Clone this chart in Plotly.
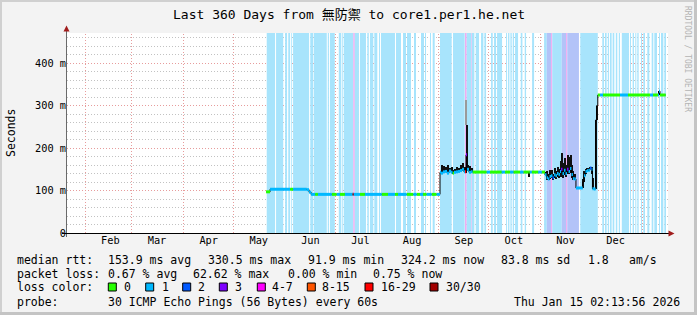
import plotly.graph_objects as go
from datetime import datetime, timedelta

EPOCH = datetime(2025, 1, 1)

# ---------------- axis data ----------------
axis_start_day = 20.04      # days since 2025-01-01 at the left edge
axis_end_day = 380.40       # right edge
y_top_s = 0.471
month_starts = ["2025-02-01", "2025-03-01", "2025-04-01", "2025-05-01", "2025-06-01",
                "2025-07-01", "2025-08-01", "2025-09-01", "2025-10-01", "2025-11-01",
                "2025-12-01", "2026-01-01"]
month_labels = ["Feb", "Mar", "Apr", "May", "Jun", "Jul", "Aug", "Sep", "Oct", "Nov", "Dec"]
y_tick_vals = [0, 0.1, 0.2, 0.3, 0.4]
y_tick_text = ["0", "100 m", "200 m", "300 m", "400 m"]
y_minor_step = 0.02

# ---------------- loss classes ----------------
loss_names = ["0", "1", "2", "3", "4-7", "8-15", "16-29", "30/30"]
loss_colors = ["#26ff00", "#00b8ff", "#0059ff", "#7e00ff", "#ff00ff", "#ff5500", "#ff0000", "#a10000"]
stripe_tints = ["#ffffff", "#a8e4fc", "#b3c3f8", "#d4b0fa", "#f0aaf0", "#ffc8aa", "#ffaaaa", "#e0aaaa"]

# ---------------- packet-loss background stripes (day ranges, loss class) ----------------
stripe_start = [139.8, 145.4, 150.8, 152.7, 154.5, 155.6, 165.9, 168.1, 176.4, 177.7, 183.0, 185.1,
                186.1, 191.7, 192.6, 195.7, 200.1, 201.7, 204.3, 207.1, 208.3, 217.3, 221.5, 223.9,
                228.1, 232.3, 234.7, 237.7, 239.3, 243.7, 251.5, 258.7, 259.7, 262.3, 262.7, 265.1,
                268.3, 270.3, 274.3, 276.1, 277.9, 283.3, 284.5, 285.9, 287.3, 288.7, 292.1, 294.5,
                298.9, 306.1, 307.7, 310.3, 311.0, 316.7, 319.3, 320.0, 327.8, 341.0, 342.6, 344.3,
                345.6, 347.2, 349.1, 350.9, 352.7, 357.6, 359.2, 360.8, 362.0, 364.2, 365.6, 368.0,
                370.6, 372.2, 375.0, 376.2, 378.2]
stripe_end = [144.8, 149.7, 152.0, 153.8, 155.0, 165.2, 167.7, 175.8, 177.1, 180.6, 184.5, 185.7,
              191.7, 192.6, 195.1, 199.3, 201.0, 203.7, 206.1, 207.7, 216.7, 220.3, 223.3, 226.3,
              229.3, 234.1, 235.3, 238.3, 240.5, 250.7, 258.5, 259.7, 262.3, 262.7, 264.3, 267.1,
              269.7, 271.3, 275.3, 277.3, 280.9, 283.9, 285.3, 286.7, 288.1, 290.5, 293.1, 295.3,
              300.1, 307.7, 310.3, 311.0, 316.7, 319.3, 320.0, 327.0, 338.3, 342.0, 343.6, 345.0,
              346.6, 348.2, 350.0, 351.6, 357.0, 358.2, 360.0, 361.4, 362.8, 364.8, 366.6, 369.2,
              371.6, 373.8, 375.6, 377.6, 379.2]
stripe_class = [1, 1, 1, 1, 1, 1, 1, 1, 1, 1, 1, 1,
                1, 4, 1, 1, 1, 1, 1, 1, 1, 1, 1, 1,
                1, 1, 1, 1, 1, 1, 1, 4, 1, 4, 1, 1,
                1, 1, 1, 1, 1, 1, 1, 1, 1, 1, 1, 1,
                1, 1, 2, 4, 1, 2, 4, 2, 1, 1, 1, 1,
                1, 1, 1, 1, 1, 1, 1, 1, 1, 1, 1, 1,
                1, 1, 1, 1, 1]

# ---------------- median rtt samples (ms) ----------------
t_day = [139.4, 141.8, 153.8, 155.6, 163.8, 165.2, 166.4, 168.8, 170.5, 178.8, 181.8, 183.7,
         186.7, 191.3, 191.9, 195.7, 198.7, 208.7, 212.5, 216.7, 218.5, 223.7, 227.7, 229.7,
         231.7, 233.5, 235.7, 238.7, 241.7,
         243.7, 244.3, 245.5, 246.7, 247.9, 249.1, 250.3, 251.2, 252.1, 253.3, 254.5, 255.7,
         256.9, 258.1, 258.7, 259.3, 259.9, 261.1, 262.3,
         263.2, 271.7, 273.7, 280.7, 282.7, 285.7, 287.7, 291.7, 293.7, 296.6, 297.6, 298.7,
         302.6, 304.7,
         306.65, 307.55, 308.45, 309.35, 310.25, 311.15, 312.05, 312.95, 313.85, 314.75, 315.65,
         316.25, 317.15, 318.05, 318.95, 319.85, 320.75, 321.65, 322.5, 323.4, 324.3, 325.2,
         329.25, 330.0, 330.9, 331.8, 332.7, 333.6, 334.5, 335.1, 336.0, 337.0, 337.6,
         338.3, 339.6, 341.4, 351.6, 356.4, 369.6, 371.4, 374.4, 375.0, 375.6]
t_end_day = 379.0
med_ms = [97, 103, 103, 103, 102, 96, 91, 91, 91, 91, 91, 91,
          91, 91, 91, 91, 91, 91, 91, 91, 91, 91, 91, 91,
          91, 91, 91, 91, 91,
          143, 141, 144, 145, 141, 146, 143, 141, 143, 144, 145, 147,
          150, 144, 144, 184, 150, 143, 144,
          143.5, 143.5, 143.5, 143.5, 143.5, 143.5, 143.5, 143.5, 143.5, 143.5, 143.5, 143.5,
          143.5, 143.5,
          137, 130, 127, 133, 135, 130, 137, 135, 140, 138, 145,
          150, 140, 148, 140, 150, 145, 152, 138, 128, 127, 106,
          120, 135, 145, 147, 148, 153, 150, 104, 103.5, 266, 300,
          325, 325, 325, 325, 325, 325, 325, 325, 334, 325]
smoke_lo_ms = [97, 103, 103, 103, 102, 96, 91, 91, 91, 91, 91, 91,
               91, 91, 91, 91, 91, 91, 91, 91, 91, 91, 91, 91,
               91, 91, 91, 91, 91,
               141, 141, 143, 143, 140, 143, 142, 140, 142, 142, 143, 144,
               145, 142, 142, 145, 145, 142, 143,
               143.5, 143.5, 143.5, 143.5, 143.5, 143.5, 143.5, 143.5, 143.5, 133, 143.5, 143.5,
               143.5, 143.5,
               135, 126, 124, 128, 130, 125, 130, 128, 132, 130, 133,
               135, 130, 136, 132, 140, 138, 141, 130, 125, 124, 106,
               106, 120, 140, 143, 145, 150, 140, 104, 103.5, 103.5, 266,
               325, 325, 325, 325, 325, 325, 325, 325, 325, 325]
smoke_hi_ms = [97, 103, 103, 103, 102, 96, 91, 91, 91, 91, 91, 91,
               91, 91, 91, 91, 91, 91, 91, 91, 91, 91, 91, 91,
               91, 91, 91, 91, 91,
               145, 161, 158, 155, 160, 152, 156, 148, 150, 155, 152, 160,
               165, 155, 150, 254, 160, 158, 152,
               143.5, 143.5, 143.5, 143.5, 143.5, 143.5, 143.5, 143.5, 143.5, 143.5, 143.5, 143.5,
               143.5, 143.5,
               143, 145, 140, 148, 149, 140, 152, 147, 155, 150, 170,
               188, 165, 177, 160, 183, 180, 183, 160, 145, 140, 106,
               128, 145, 150, 152, 153, 156, 155, 130, 103.5, 266, 300,
               325, 325, 325, 325, 325, 325, 325, 325, 334, 325]
loss_n = [0, 1, 0, 1, 1, 1, 1, 0, 1, 0, 1, 0,
          1, 30, 1, 0, 1, 0, 1, 0, 1, 0, 1, 0,
          1, 0, 1, 0, 1,
          1, 1, 1, 1, 1, 1, 1, 0, 1, 1, 1, 1,
          1, 1, 16, 3, 1, 1, 1,
          0, 1, 0, 1, 0, 1, 0, 1, 0, 0, 1, 0,
          1, 0,
          1, 1, 1, 1, 1, 2, 1, 1, 1, 1, 1,
          3, 1, 1, 1, 3, 1, 1, 1, 1, 1, 1,
          None, 1, 1, 1, 1, 2, 1, 1, 1, None, None,
          0, 1, 0, 1, 0, 1, 0, 1, 1, 0]
# light smoke of the single outlier column
grey_day = [259.3]
grey_lo_ms = [254]
grey_hi_ms = [313]

# ---------------- legend texts ----------------
rtt_items = ["median rtt:", "153.9 ms avg", "330.5 ms max", "91.9 ms min", "324.2 ms now",
             "83.8 ms sd", "1.8", "am/s"]
loss_items = ["packet loss:", "0.67 % avg", "62.62 % max", "0.00 % min", "0.75 % now"]
probe_items = ["probe:", "30 ICMP Echo Pings (56 Bytes) every 60s", "Thu Jan 15 02:13:56 2026"]
title_text = "Last 360 Days from 無防禦 to core1.per1.he.net"
watermark_text = "RRDTOOL / TOBI OETIKER"

# ---------------- layout geometry (pixels) ----------------
W, H = 697, 315
PL, PR, PT, PB = 67, 668, 33, 233
MONO = "DejaVu Sans Mono, Noto Sans CJK TC"
GRID_MAJOR = "#e79c9c"
GRID_MINOR = "#c2c2c2"


def d(day):
    return EPOCH + timedelta(days=day)


def px(x):
    return (x - PL) / (PR - PL)


def py(y):
    return (PB - y) / (PB - PT)


def crisp_y(v):
    """pixel-snapped paper y of a value on the y axis"""
    pix = PB - v / y_top_s * (PB - PT)
    return py(round(pix - 0.5) + 0.5)


def crisp_x(day):
    pix = PL + (day - axis_start_day) / (axis_end_day - axis_start_day) * (PR - PL)
    return px(round(pix - 0.5) + 0.5)


def loss_class(n):
    if n is None:
        return None
    if n <= 3:
        return n
    if n <= 7:
        return 4
    if n <= 15:
        return 5
    if n < 30:
        return 6
    return 7


fig = go.Figure()
shapes = []
annotations = []

# background loss stripes
for s, e, c in zip(stripe_start, stripe_end, stripe_class):
    shapes.append(dict(type="rect", xref="x", yref="y", x0=d(s), x1=d(e), y0=0, y1=y_top_s,
                       fillcolor=stripe_tints[c], line=dict(width=0), layer="below"))

# grid lines (dotted) above the stripes, below the data
k = 1
while k * y_minor_step < y_top_s:
    yv = k * y_minor_step
    major = abs(yv * 10 - round(yv * 10)) < 1e-6
    yp = crisp_y(yv)
    shapes.append(dict(type="line", xref="paper", yref="paper", x0=0, x1=1, y0=yp, y1=yp,
                       line=dict(color=GRID_MAJOR if major else GRID_MINOR, width=1, dash="1px,2px"),
                       layer="between"))
    k += 1
for m in month_starts:
    md = (datetime.strptime(m, "%Y-%m-%d") - EPOCH).total_seconds() / 86400
    xp = crisp_x(md)
    shapes.append(dict(type="line", xref="paper", yref="paper", x0=xp, x1=xp, y0=0, y1=1,
                       line=dict(color=GRID_MAJOR, width=1, dash="1px,2px"), layer="between"))

# smoke bars
t_next = t_day[1:] + [t_end_day]
bx, bb, bh, bw = [], [], [], []
for t0, t1, lo, hi in zip(t_day, t_next, smoke_lo_ms, smoke_hi_ms):
    if hi - lo > 0.5:
        bx.append(d((t0 + t1) / 2))
        bb.append(lo / 1000)
        bh.append((hi - lo) / 1000)
        bw.append((t1 - t0) * 86400000)
fig.add_trace(go.Bar(x=[d(t) for t in grey_day], base=[v / 1000 for v in grey_lo_ms],
                     y=[(h - l) / 1000 for h, l in zip(grey_hi_ms, grey_lo_ms)],
                     width=[0.6 * 86400000], marker=dict(color="#9a9a9a", line=dict(width=0)),
                     hoverinfo="skip"))
fig.add_trace(go.Bar(x=bx, base=bb, y=bh, width=bw,
                     marker=dict(color="#111111", line=dict(width=0)), hoverinfo="skip"))

# thin black median line
fig.add_trace(go.Scatter(x=[d(t) for t in t_day] + [d(t_end_day)],
                         y=[v / 1000 for v in med_ms] + [med_ms[-1] / 1000],
                         mode="lines", line=dict(color="#000000", width=1, shape="hv"),
                         hoverinfo="skip"))

# coloured median segments by loss class
for ci, col in enumerate(loss_colors):
    xs, ys = [], []
    for t0, t1, m, n in zip(t_day, t_next, med_ms, loss_n):
        if loss_class(n) == ci:
            xs += [d(t0), d(t1), None]
            ys += [m / 1000, m / 1000, None]
    if xs:
        fig.add_trace(go.Scatter(x=xs, y=ys, mode="lines", line=dict(color=col, width=3),
                                 hoverinfo="skip"))

# axis lines and arrows
shapes.append(dict(type="line", xref="paper", yref="paper", x0=px(66.5), x1=px(66.5),
                   y0=py(237), y1=py(30), line=dict(color="#6a6a6a", width=1), layer="above"))
shapes.append(dict(type="line", xref="paper", yref="paper", x0=px(62), x1=px(670),
                   y0=py(233.5), y1=py(233.5), line=dict(color="#000000", width=1), layer="above"))
shapes.append(dict(type="path", xref="paper", yref="paper",
                   path=f"M {px(66.5)},{py(25.5)} L {px(63.5)},{py(31.5)} L {px(69.5)},{py(31.5)} Z",
                   fillcolor="#a01c1c", line=dict(width=0), layer="above"))
shapes.append(dict(type="path", xref="paper", yref="paper",
                   path=f"M {px(674.5)},{py(233.5)} L {px(668.5)},{py(230.5)} L {px(668.5)},{py(236.5)} Z",
                   fillcolor="#a01c1c", line=dict(width=0), layer="above"))

# image frame
frame = [(0, 0, W, 2, "#d0d0d0"), (0, 0, 2, H, "#d0d0d0"),
         (W - 3, 0, W, H, "#c4c4c4"), (0, H - 3, W, H, "#c4c4c4")]
for x0, y0, x1, y1, c in frame:
    shapes.append(dict(type="rect", xref="paper", yref="paper", x0=px(x0), x1=px(x1),
                       y0=py(y1), y1=py(y0), fillcolor=c, line=dict(width=0), layer="above"))


def txt(x, y, s, size=11.5, color="#000000", angle=0, xanchor="left"):
    annotations.append(dict(x=px(x), y=py(y), xref="paper", yref="paper", text=s.replace(" ", "\u00a0"),
                            showarrow=False, xanchor=xanchor, yanchor="middle", textangle=angle,
                            font=dict(family=MONO, size=size, color=color), borderpad=0))


# title, unit, watermark
txt(348.5, 14, title_text, size=13, xanchor="center")
txt(11, 133, "Seconds", size=11.5, angle=-90, xanchor="center")
txt(688, 59, watermark_text, size=8, color="#b4b4b4", angle=90, xanchor="center")

# legend rows
rtt_x = [16, 107.3, 207.3, 306.5, 400, 500, 586.7, 628.3]
for x, s in zip(rtt_x, rtt_items):
    txt(x, 259.5, s)
loss_x = [16, 107.3, 192, 287, 372.3]
for x, s in zip(loss_x, loss_items):
    txt(x, 273.5, s)
txt(16, 287, "loss color:")
box_x = [108.3, 145.7, 182.7, 219.3, 257.3, 307.3, 365, 430]
lab_x = [123.3, 161, 197.3, 234.3, 270.7, 321, 380, 445]
for bx0, lx, name, col in zip(box_x, lab_x, loss_names, loss_colors):
    shapes.append(dict(type="rect", xref="paper", yref="paper", x0=px(bx0), x1=px(bx0 + 8),
                       y0=py(291), y1=py(283), fillcolor=col, line=dict(color="#000000", width=1),
                       layer="above"))
    txt(lx, 287, name)
probe_x = [16, 107.3, 513.3]
for x, s in zip(probe_x, probe_items):
    txt(x, 301.5, s)

fig.update_layout(
    width=W, height=H,
    margin=dict(l=PL, r=W - PR, t=PT, b=H - PB),
    paper_bgcolor="#f3f3f3", plot_bgcolor="#ffffff",
    showlegend=False, barmode="overlay", bargap=0,
    font=dict(family=MONO, size=11.5, color="#000000"),
    shapes=shapes, annotations=annotations,
    xaxis=dict(type="date", range=[d(axis_start_day), d(axis_end_day)],
               tickmode="array",
               tickvals=[datetime.strptime(m, "%Y-%m-%d") + timedelta(days=15) for m in month_starts[:-1]],
               ticktext=month_labels, showgrid=False, zeroline=False, showline=False, ticks="",
               tickfont=dict(family=MONO, size=10.3, color="#000000")),
    yaxis=dict(range=[0, y_top_s], tickmode="array", tickvals=y_tick_vals, ticktext=y_tick_text,
               showgrid=False, zeroline=False, showline=False, ticks="",
               tickfont=dict(family=MONO, size=10.3, color="#000000")),
)

fig.write_html("out.html")
